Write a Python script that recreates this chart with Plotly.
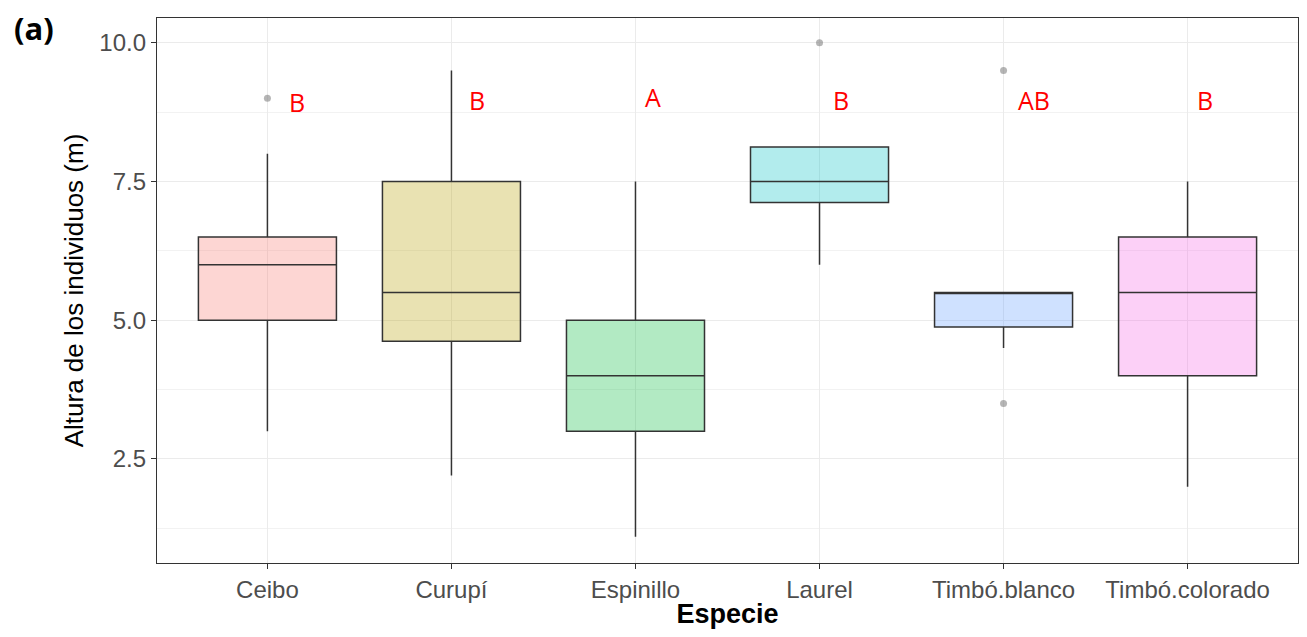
import plotly.graph_objects as go

species = ["Ceibo", "Curupí", "Espinillo", "Laurel", "Timbó.blanco", "Timbó.colorado"]
q1 = [5.0, 4.62, 3.0, 7.12, 4.88, 4.0]
median = [6.0, 5.5, 4.0, 7.5, 5.5, 5.5]
q3 = [6.5, 7.5, 5.0, 8.12, 5.5, 6.5]
lower_fence = [3.0, 2.2, 1.1, 6.0, 4.5, 2.0]
upper_fence = [8.0, 9.5, 7.5, 8.12, 5.5, 7.5]
outlier_species = ["Ceibo", "Laurel", "Timbó.blanco", "Timbó.blanco"]
outlier_values = [9.0, 10.0, 9.5, 3.5]
letters = ["B", "B", "A", "B", "AB", "B"]
letter_y = [8.93, 8.96, 9.02, 8.96, 8.96, 8.96]
letter_shift = [30, 26, 18, 21, 30, 17]
fills = ["rgba(248,118,109,0.3)", "rgba(183,159,0,0.3)", "rgba(0,186,56,0.3)",
         "rgba(0,191,196,0.3)", "rgba(97,156,255,0.3)", "rgba(245,100,227,0.3)"]

fig = go.Figure()
for i, sp in enumerate(species):
    fig.add_trace(go.Box(
        x=[sp], q1=[q1[i]], median=[median[i]], q3=[q3[i]],
        lowerfence=[lower_fence[i]], upperfence=[upper_fence[i]],
        fillcolor=fills[i], line=dict(color="#333333", width=1.5),
        whiskerwidth=0, width=0.75, boxpoints=False, showlegend=False,
        hoverinfo="skip"))

fig.add_trace(go.Scatter(
    x=outlier_species, y=outlier_values, mode="markers",
    marker=dict(color="rgba(120,120,120,0.55)", size=7),
    showlegend=False, hoverinfo="skip"))

for i, sp in enumerate(species):
    fig.add_annotation(x=sp, y=letter_y[i], text=letters[i], showarrow=False,
                       xshift=letter_shift[i],
                       font=dict(family="Open Sans", size=25, color="#FF0000"))

fig.add_annotation(xref="paper", yref="paper", x=-0.127, y=0.982, text="<b>(a)</b>",
                   showarrow=False, xanchor="left", yanchor="middle",
                   font=dict(family="Open Sans", size=31, color="black"))

fig.update_layout(
    width=1291, height=621,
    margin=dict(l=149, r=0, t=10, b=61),
    paper_bgcolor="white", plot_bgcolor="white",
    boxmode="overlay",
    xaxis=dict(
        categoryorder="array", categoryarray=species,
        range=[-0.6, 5.6],
        showgrid=True, gridcolor="#EBEBEB", gridwidth=1,
        showline=True, linecolor="#333333", linewidth=1.3, mirror=True,
        ticks="outside", ticklen=5, tickcolor="#333333",
        tickfont=dict(family="Liberation Sans", size=24, color="#4D4D4D"),
        title=dict(text="<b>Especie</b>", standoff=7,
                   font=dict(family="Liberation Sans", size=27, color="black")),
        zeroline=False),
    yaxis=dict(
        range=[0.625, 10.446],
        tickvals=[2.5, 5.0, 7.5, 10.0], ticktext=["2.5", "5.0", "7.5", "10.0"],
        showgrid=True, gridcolor="#EBEBEB", gridwidth=1,
        minor=dict(tickvals=[1.25, 3.75, 6.25, 8.75], showgrid=True,
                   gridcolor="#F2F2F2", gridwidth=1),
        showline=True, linecolor="#333333", linewidth=1.3, mirror=True,
        ticks="outside", ticklen=5, tickcolor="#333333",
        tickfont=dict(family="Liberation Sans", size=24, color="#4D4D4D"),
        title=dict(text="Altura de los individuos (m)", standoff=8,
                   font=dict(family="Liberation Sans", size=26, color="black")),
        zeroline=False),
)

fig.write_html("out.html")
